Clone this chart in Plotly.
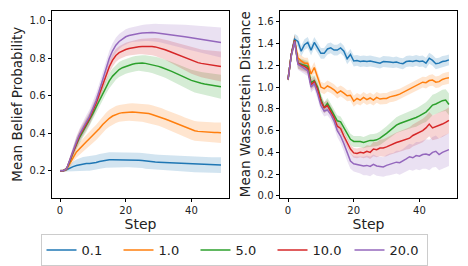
import plotly.graph_objects as go

steps = list(range(50))
labels = ["0.1", "1.0", "5.0", "10.0", "20.0"]
colors = ["#1f77b4", "#ff7f0e", "#2ca02c", "#d62728", "#9467bd"]

# Left panel: mean belief probability
belief_01 = [0.200,0.200,0.205,0.215,0.222,0.228,0.232,0.236,0.238,0.239,0.240,0.244,0.249,0.253,0.256,0.258,0.259,0.259,0.258,0.258,
             0.258,0.258,0.258,0.257,0.256,0.254,0.251,0.249,0.247,0.246,0.245,0.244,0.243,0.242,0.241,0.240,0.239,0.238,0.237,0.236,
             0.235,0.234,0.233,0.232,0.231,0.231,0.230,0.230,0.230,0.230]
belief_1 = [0.200,0.200,0.207,0.235,0.270,0.300,0.320,0.338,0.355,0.372,0.388,0.405,0.425,0.447,0.465,0.480,0.492,0.500,0.506,0.510,
            0.512,0.513,0.513,0.512,0.511,0.510,0.508,0.505,0.500,0.495,0.490,0.483,0.476,0.469,0.462,0.455,0.447,0.440,0.432,0.425,
            0.418,0.413,0.410,0.408,0.407,0.406,0.405,0.404,0.404,0.403]
belief_5 = [0.200,0.200,0.210,0.250,0.300,0.345,0.380,0.410,0.440,0.470,0.505,0.540,0.575,0.615,0.650,0.680,0.705,0.725,0.740,0.750,
            0.757,0.763,0.768,0.772,0.775,0.775,0.773,0.770,0.766,0.762,0.757,0.751,0.745,0.738,0.730,0.722,0.715,0.708,0.700,0.690,
            0.682,0.676,0.671,0.667,0.663,0.660,0.657,0.654,0.651,0.648]
belief_10 = [0.200,0.200,0.210,0.255,0.305,0.350,0.390,0.420,0.450,0.480,0.520,0.560,0.610,0.660,0.710,0.755,0.790,0.815,0.830,0.840,
             0.847,0.852,0.856,0.860,0.862,0.863,0.864,0.864,0.863,0.861,0.857,0.852,0.846,0.839,0.832,0.825,0.818,0.810,0.803,0.795,
             0.788,0.782,0.777,0.773,0.770,0.767,0.764,0.761,0.758,0.756]
belief_20 = [0.200,0.200,0.210,0.260,0.310,0.355,0.395,0.430,0.460,0.490,0.530,0.575,0.630,0.690,0.750,0.800,0.840,0.870,0.890,0.905,
             0.915,0.922,0.927,0.930,0.933,0.935,0.937,0.938,0.938,0.937,0.935,0.933,0.930,0.928,0.926,0.924,0.922,0.919,0.915,0.912,
             0.909,0.906,0.903,0.900,0.897,0.894,0.891,0.889,0.887,0.885]

belief_sd_01 = [0.005,0.007,0.010,0.018,0.026,0.032,0.035,0.037,0.038,0.039,0.040,0.040,0.040,0.040,0.040,0.040,0.040,0.040,0.040,0.040,
                0.040,0.040,0.040,0.040,0.040,0.040,0.040,0.040,0.040,0.040,0.040,0.040,0.040,0.041,0.041,0.041,0.041,0.041,0.042,0.042,
                0.042,0.042,0.042,0.042,0.042,0.042,0.042,0.042,0.042,0.042]
belief_sd_1 = [0.005,0.007,0.010,0.018,0.025,0.030,0.033,0.035,0.037,0.039,0.040,0.041,0.042,0.043,0.044,0.045,0.045,0.045,0.045,0.045,
               0.046,0.046,0.047,0.047,0.048,0.048,0.048,0.049,0.049,0.050,0.050,0.050,0.050,0.051,0.051,0.051,0.052,0.052,0.052,0.052,
               0.053,0.053,0.053,0.053,0.054,0.054,0.054,0.054,0.055,0.055]
belief_sd_5 = [0.005,0.007,0.010,0.018,0.025,0.030,0.031,0.032,0.033,0.034,0.035,0.036,0.037,0.038,0.039,0.040,0.040,0.040,0.040,0.040,
               0.040,0.040,0.040,0.041,0.041,0.042,0.043,0.044,0.045,0.046,0.047,0.048,0.049,0.050,0.051,0.052,0.053,0.054,0.055,0.056,
               0.057,0.058,0.059,0.060,0.061,0.062,0.062,0.063,0.063,0.064]
belief_sd_10 = [0.005,0.007,0.010,0.018,0.025,0.030,0.031,0.032,0.033,0.034,0.035,0.035,0.035,0.035,0.035,0.035,0.035,0.035,0.035,0.035,
                0.036,0.037,0.038,0.039,0.040,0.041,0.042,0.044,0.046,0.048,0.050,0.052,0.054,0.056,0.058,0.060,0.062,0.064,0.066,0.068,
                0.070,0.072,0.073,0.074,0.075,0.076,0.077,0.078,0.079,0.080]
belief_sd_20 = [0.005,0.007,0.010,0.018,0.025,0.030,0.032,0.034,0.036,0.038,0.040,0.040,0.040,0.040,0.040,0.040,0.040,0.040,0.040,0.040,
                0.040,0.040,0.040,0.041,0.042,0.043,0.044,0.045,0.046,0.047,0.048,0.050,0.052,0.054,0.056,0.058,0.060,0.062,0.064,0.066,
                0.068,0.070,0.072,0.073,0.074,0.075,0.076,0.077,0.078,0.080]

# Right panel: mean Wasserstein distance
wass_01 = [1.07,1.30,1.44,1.42,1.33,1.39,1.41,1.34,1.41,1.36,1.31,1.31,1.35,1.36,1.34,1.34,1.36,1.33,1.26,1.30,
           1.24,1.245,1.235,1.24,1.235,1.24,1.235,1.23,1.22,1.235,1.235,1.23,1.225,1.23,1.22,1.215,1.235,1.24,1.235,1.245,
           1.235,1.24,1.22,1.265,1.245,1.215,1.22,1.235,1.24,1.25]
wass_1 = [1.07,1.30,1.43,1.27,1.24,1.22,1.22,1.12,1.18,1.09,1.00,0.985,1.01,0.995,0.975,0.945,0.965,0.945,0.92,0.925,
          0.87,0.895,0.88,0.905,0.885,0.90,0.88,0.905,0.89,0.895,0.895,0.91,0.915,0.925,0.935,0.95,0.97,0.985,1.00,1.015,
          1.03,1.045,1.04,1.06,1.065,1.045,1.05,1.07,1.08,1.085]
wass_5 = [1.07,1.30,1.43,1.22,1.21,1.20,1.19,1.04,1.06,1.00,0.89,0.81,0.85,0.80,0.74,0.69,0.68,0.63,0.57,0.52,
          0.50,0.50,0.50,0.49,0.50,0.51,0.51,0.515,0.53,0.55,0.575,0.60,0.625,0.65,0.665,0.675,0.685,0.695,0.71,0.72,
          0.735,0.755,0.77,0.80,0.835,0.845,0.86,0.875,0.88,0.84]
wass_10 = [1.07,1.30,1.43,1.22,1.20,1.19,1.17,1.02,1.05,0.98,0.87,0.81,0.83,0.78,0.72,0.64,0.62,0.55,0.49,0.43,
           0.395,0.39,0.40,0.395,0.41,0.40,0.43,0.425,0.44,0.44,0.45,0.465,0.48,0.49,0.50,0.51,0.525,0.53,0.555,0.57,
           0.585,0.60,0.625,0.66,0.625,0.635,0.645,0.66,0.675,0.695]
wass_20 = [1.07,1.29,1.42,1.21,1.19,1.17,1.15,1.00,1.03,0.94,0.83,0.78,0.79,0.75,0.69,0.60,0.55,0.48,0.39,0.32,
           0.295,0.29,0.285,0.275,0.28,0.27,0.29,0.275,0.27,0.265,0.28,0.29,0.295,0.31,0.305,0.32,0.34,0.36,0.35,0.37,
           0.365,0.38,0.385,0.375,0.40,0.41,0.38,0.40,0.41,0.425]

wass_sd_01 = [0.02,0.04,0.05,0.05,0.05,0.05,0.05,0.05,0.05,0.05,0.05,0.05,0.05,0.05,0.05,0.05,0.05,0.05,0.05,0.05,
              0.05,0.05,0.05,0.05,0.05,0.05,0.05,0.05,0.05,0.05,0.05,0.05,0.05,0.05,0.05,0.05,0.05,0.05,0.05,0.05,
              0.05,0.05,0.05,0.05,0.05,0.05,0.05,0.05,0.05,0.05]
wass_sd_1 = [0.02,0.04,0.05,0.05,0.05,0.05,0.05,0.05,0.05,0.05,0.05,0.05,0.05,0.05,0.05,0.05,0.05,0.05,0.05,0.05,
             0.05,0.05,0.05,0.05,0.05,0.05,0.05,0.05,0.05,0.05,0.05,0.05,0.05,0.05,0.05,0.05,0.05,0.05,0.05,0.05,
             0.05,0.05,0.052,0.052,0.053,0.053,0.054,0.054,0.055,0.055]
wass_sd_5 = [0.02,0.04,0.05,0.05,0.05,0.05,0.05,0.05,0.05,0.05,0.05,0.05,0.05,0.05,0.05,0.05,0.05,0.05,0.05,0.05,
             0.05,0.05,0.05,0.052,0.054,0.056,0.058,0.06,0.062,0.064,0.066,0.068,0.07,0.072,0.074,0.076,0.078,0.08,0.082,0.084,
             0.086,0.088,0.09,0.092,0.094,0.096,0.098,0.10,0.10,0.10]
wass_sd_10 = [0.02,0.04,0.05,0.05,0.05,0.05,0.05,0.05,0.05,0.05,0.05,0.05,0.05,0.05,0.05,0.05,0.045,0.045,0.045,0.045,
              0.045,0.045,0.045,0.05,0.055,0.06,0.065,0.07,0.075,0.08,0.085,0.088,0.09,0.092,0.094,0.096,0.098,0.10,0.102,0.104,
              0.106,0.108,0.11,0.112,0.114,0.116,0.118,0.12,0.12,0.12]
wass_sd_20 = [0.02,0.04,0.05,0.05,0.05,0.05,0.05,0.05,0.05,0.05,0.05,0.05,0.05,0.05,0.055,0.06,0.065,0.07,0.07,0.07,
              0.07,0.075,0.08,0.085,0.09,0.09,0.09,0.09,0.09,0.09,0.095,0.10,0.10,0.105,0.11,0.11,0.115,0.12,0.12,0.125,
              0.13,0.13,0.135,0.14,0.14,0.145,0.145,0.15,0.15,0.15]

belief = [belief_01, belief_1, belief_5, belief_10, belief_20]
belief_sd = [belief_sd_01, belief_sd_1, belief_sd_5, belief_sd_10, belief_sd_20]
wass = [wass_01, wass_1, wass_5, wass_10, wass_20]
wass_sd = [wass_sd_01, wass_sd_1, wass_sd_5, wass_sd_10, wass_sd_20]


def rgba(hx, a):
    h = hx.lstrip("#")
    r, g, b = int(h[0:2], 16), int(h[2:4], 16), int(h[4:6], 16)
    return f"rgba({r},{g},{b},{a})"


fig = go.Figure()

for xa, ya, means, sds in [("x", "y", belief, belief_sd), ("x2", "y2", wass, wass_sd)]:
    for i in range(5):
        m, s = means[i], sds[i]
        upper = [a + b for a, b in zip(m, s)]
        lower = [a - b for a, b in zip(m, s)]
        fig.add_trace(go.Scatter(
            x=steps + steps[::-1], y=upper + lower[::-1], fill="toself",
            fillcolor=rgba(colors[i], 0.2), line=dict(width=0), mode="lines",
            hoverinfo="skip", showlegend=False, xaxis=xa, yaxis=ya))
    for i in range(5):
        fig.add_trace(go.Scatter(
            x=steps, y=means[i], mode="lines", line=dict(color=colors[i], width=1.5),
            name=labels[i], showlegend=(xa == "x"), xaxis=xa, yaxis=ya))

font = "DejaVu Sans"
axis_common = dict(showline=True, linecolor="black", linewidth=1, mirror=True, automargin=False,
                   ticks="outside", ticklen=3.5, tickcolor="black", showgrid=False, zeroline=False,
                   tickfont=dict(family=font, size=10, color="#222"))

fig.update_layout(
    width=468, height=266, margin=dict(l=0, r=0, t=0, b=0),
    paper_bgcolor="white", plot_bgcolor="white",
    font=dict(family=font, color="#222"),
    xaxis=dict(domain=[52/468, 229/468], range=[-2.45, 51.45], tickvals=[0, 20, 40],
               title=dict(text="Step", font=dict(size=14), standoff=4), anchor="y", **axis_common),
    yaxis=dict(domain=[1-199/266, 1-11/266], range=[0.057, 1.053], tickvals=[0.2, 0.4, 0.6, 0.8, 1.0],
               tickformat=".1f", title=dict(text="Mean Belief Probability", font=dict(size=13.5), standoff=3),
               anchor="x", **axis_common),
    xaxis2=dict(domain=[280/468, 457/468], range=[-2.45, 51.45], tickvals=[0, 20, 40],
                title=dict(text="Step", font=dict(size=14), standoff=4), anchor="y2", **axis_common),
    yaxis2=dict(domain=[1-199/266, 1-11/266], range=[-0.015, 1.70],
                tickvals=[0.0, 0.2, 0.4, 0.6, 0.8, 1.0, 1.2, 1.4, 1.6], tickformat=".1f",
                title=dict(text="Mean Wasserstein Distance", font=dict(size=13.5), standoff=3),
                anchor="x2", **axis_common),
    legend=dict(orientation="h", x=0.5, xanchor="center", y=1-236/266, yanchor="top",
                bordercolor="#cccccc", borderwidth=1, font=dict(family=font, size=13, color="#222"),
                bgcolor="white", entrywidth=32),
)

fig.write_html("out.html", config={"displayModeBar": False},
               post_script="document.body.style.margin='0';document.body.style.overflow='hidden';")
